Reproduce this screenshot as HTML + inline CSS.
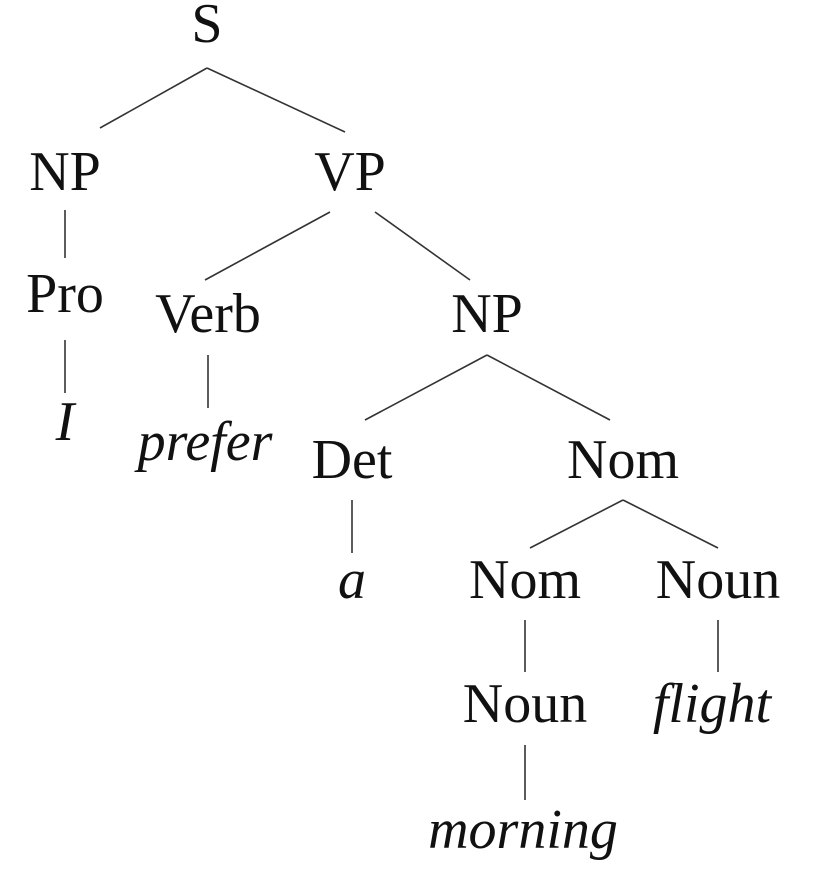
<!DOCTYPE html>
<html><head><meta charset="utf-8"><style>
html,body{margin:0;padding:0;background:#fff;}
svg{display:block;}
text{font-family:"Liberation Serif",serif;font-size:56px;fill:#111;text-anchor:middle;}
.i{font-style:italic;}
line{stroke:#333;stroke-width:1.6;}
</style></head><body>
<svg width="836" height="884" viewBox="0 0 836 884">
<text x="207" y="42">S</text>
<text x="65" y="190">NP</text>
<text x="350" y="190">VP</text>
<text x="65" y="312">Pro</text>
<text x="208" y="332">Verb</text>
<text x="487" y="332">NP</text>
<text x="65" y="440" class="i">I</text>
<text x="205" y="460" class="i">prefer</text>
<text x="352" y="478">Det</text>
<text x="623" y="478">Nom</text>
<text x="352" y="598" class="i">a</text>
<text x="525" y="598">Nom</text>
<text x="718" y="598">Noun</text>
<text x="525" y="722">Noun</text>
<text x="712" y="722" class="i">flight</text>
<text x="523" y="848" class="i">morning</text>
<line x1="207" y1="68" x2="100" y2="128"/>
<line x1="207" y1="68" x2="345" y2="132"/>
<line x1="65" y1="210" x2="65" y2="258"/>
<line x1="65" y1="340" x2="65" y2="393"/>
<line x1="330" y1="212" x2="205" y2="280"/>
<line x1="375" y1="212" x2="470" y2="280"/>
<line x1="208" y1="355" x2="208" y2="408"/>
<line x1="487" y1="355" x2="365" y2="420"/>
<line x1="487" y1="355" x2="610" y2="420"/>
<line x1="352" y1="500" x2="352" y2="553"/>
<line x1="623" y1="500" x2="530" y2="548"/>
<line x1="623" y1="500" x2="718" y2="548"/>
<line x1="525" y1="620" x2="525" y2="672"/>
<line x1="718" y1="620" x2="718" y2="672"/>
<line x1="525" y1="745" x2="525" y2="800"/>
</svg>
</body></html>
